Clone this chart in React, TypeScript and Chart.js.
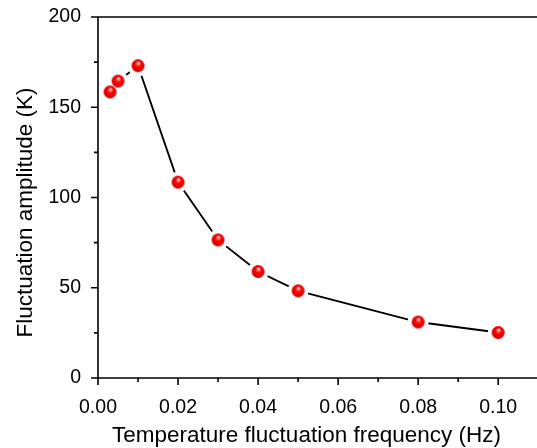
import React, { useEffect, useRef } from "react";
import { Chart, registerables } from "chart.js";
Chart.register(...registerables);

const FREQ = [0.003, 0.005, 0.01, 0.02, 0.03, 0.04, 0.05, 0.08, 0.1];
const AMP = [158.5, 164.5, 173, 108.5, 76.5, 59, 48.3, 31, 25.2];
const X_TICKS = [0, 0.02, 0.04, 0.06, 0.08, 0.1];
const X_MINOR = [0.01, 0.03, 0.05, 0.07, 0.09];
const Y_TICKS = [0, 50, 100, 150, 200];
const Y_MINOR = [25, 75, 125, 175];
const X_TITLE = "Temperature fluctuation frequency (Hz)";
const Y_TITLE = "Fluctuation amplitude (K)";

const FONT = "'Liberation Sans', Arial, sans-serif";

function makeBall(r: number): HTMLCanvasElement {
  const size = Math.ceil(r * 2 + 2);
  const c = document.createElement("canvas");
  c.width = size;
  c.height = size;
  const g = c.getContext("2d")!;
  const cx = size / 2;
  const cy = size / 2;
  const grad = g.createRadialGradient(cx + 0.6, cy - r * 0.45, 0.2, cx, cy, r);
  grad.addColorStop(0, "#ffffff");
  grad.addColorStop(0.2, "#ff6a6a");
  grad.addColorStop(0.45, "#ff0000");
  grad.addColorStop(1, "#cc0000");
  g.fillStyle = grad;
  g.beginPath();
  g.arc(cx, cy, r, 0, Math.PI * 2);
  g.fill();
  return c;
}

const gapPlugin = {
  id: "gapPlugin",
  afterDatasetDraw(chart: any, args: any) {
    if (args.index !== 1) return;
    const meta = chart.getDatasetMeta(1);
    const ctx = chart.ctx;
    ctx.save();
    ctx.fillStyle = "#ffffff";
    meta.data.forEach((p: any) => {
      ctx.beginPath();
      ctx.arc(p.x, p.y, 10.5, 0, Math.PI * 2);
      ctx.fill();
    });
    ctx.restore();
  },
};

const axesPlugin = {
  id: "axesPlugin",
  afterDatasetsDraw(chart: any) {
    const { ctx, chartArea } = chart;
    const xs = chart.scales.x;
    const ys = chart.scales.y;
    const { left, right, top, bottom } = chartArea;
    ctx.save();
    ctx.strokeStyle = "#000";
    ctx.lineWidth = 1.6;
    ctx.beginPath();
    ctx.moveTo(left, top);
    ctx.lineTo(left, bottom);
    ctx.moveTo(left, bottom);
    ctx.lineTo(right, bottom);
    ctx.moveTo(left, top);
    ctx.lineTo(right, top);
    ctx.stroke();
    ctx.beginPath();
    X_TICKS.forEach((v) => {
      const x = xs.getPixelForValue(v);
      ctx.moveTo(x, bottom);
      ctx.lineTo(x, bottom + 7);
    });
    X_MINOR.forEach((v) => {
      const x = xs.getPixelForValue(v);
      ctx.moveTo(x, bottom);
      ctx.lineTo(x, bottom + 4);
    });
    Y_TICKS.forEach((v) => {
      const y = ys.getPixelForValue(v);
      ctx.moveTo(left, y);
      ctx.lineTo(left - 7, y);
    });
    Y_MINOR.forEach((v) => {
      const y = ys.getPixelForValue(v);
      ctx.moveTo(left, y);
      ctx.lineTo(left - 4, y);
    });
    ctx.stroke();

    // axis titles
    ctx.fillStyle = "#000";
    ctx.font = `22.5px ${FONT}`;
    ctx.textAlign = "center";
    ctx.textBaseline = "alphabetic";
    ctx.fillText(X_TITLE, (left + right) / 2 - 11, bottom + 64);
    ctx.save();
    ctx.translate(31.5, (top + bottom) / 2 + 15);
    ctx.rotate(-Math.PI / 2);
    ctx.fillText(Y_TITLE, 0, 0);
    ctx.restore();
    ctx.restore();
  },
};

function zeroPad(s: any) {
  s.paddingTop = 0;
  s.paddingBottom = 0;
  s.paddingLeft = 0;
  s.paddingRight = 0;
}

export default function App() {
  const ref = useRef<HTMLCanvasElement | null>(null);
  useEffect(() => {
    if (!ref.current) return;
    const ball = makeBall(6.5);
    const pts = FREQ.map((f, i) => ({ x: f, y: AMP[i] }));
    const chart = new Chart(ref.current, {
      type: "line",
      data: {
        datasets: [
          {
            data: pts,
            showLine: false,
            pointStyle: ball as any,
            pointRadius: 6.5,
            pointHoverRadius: 6.5,
            order: 1,
          },
          {
            data: pts,
            borderColor: "#000",
            borderWidth: 1.9,
            pointRadius: 0,
            pointHoverRadius: 0,
            tension: 0,
            fill: false,
            order: 2,
          },
        ],
      },
      options: {
        animation: false,
        responsive: false,
        events: [],
        layout: { autoPadding: false, padding: { top: 17, right: 0, left: 0, bottom: 0 } },
        plugins: { legend: { display: false }, tooltip: { enabled: false } },
        scales: {
          x: {
            type: "linear",
            min: 0,
            max: 0.1097,
            afterBuildTicks: (s: any) => {
              s.ticks = X_TICKS.map((v) => ({ value: v }));
            },
            afterFit: (s: any) => {
              s.height = 70;
              zeroPad(s);
            },
            grid: { display: false, drawTicks: false },
            border: { display: false },
            ticks: {
              autoSkip: false,
              maxRotation: 0,
              color: "#000",
              padding: 18,
              font: { family: FONT, size: 19.5 },
              callback: (v: any) => Number(v).toFixed(2),
            },
            title: { display: false },
          },
          y: {
            type: "linear",
            min: 0,
            max: 200,
            afterBuildTicks: (s: any) => {
              s.ticks = Y_TICKS.map((v) => ({ value: v }));
            },
            afterFit: (s: any) => {
              s.width = 98;
              zeroPad(s);
            },
            grid: { display: false, drawTicks: false },
            border: { display: false },
            ticks: {
              color: "#000",
              padding: 17,
              font: { family: FONT, size: 19.5 },
              callback: (v: any) => String(v),
            },
            title: { display: false },
          },
        },
      },
      plugins: [gapPlugin, axesPlugin],
    });
    return () => chart.destroy();
  }, []);
  return (
    <div style={{ position: "absolute", left: 0, top: 0, width: 537, height: 448, background: "#fff" }}>
      <canvas ref={ref} width={537} height={448} style={{ display: "block" }} />
    </div>
  );
}
